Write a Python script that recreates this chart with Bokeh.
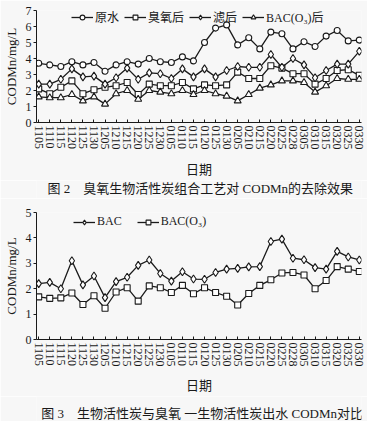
from bokeh.plotting import figure
from bokeh.models import Range1d, FixedTicker, Legend, LegendItem, ColumnDataSource
from bokeh.core.properties import value
from bokeh.layouts import column
from bokeh.embed import file_html
from bokeh.resources import INLINE

# ---------------- data ----------------
dates = ["1105", "1110", "1115", "1120", "1125", "1130", "1205", "1210", "1215", "1220",
         "1225", "1230", "0105", "0110", "0115", "0120", "0125", "0130", "0205", "0210",
         "0215", "0220", "0225", "0228", "0305", "0310", "0315", "0320", "0325", "0330"]

# Fig 2: COD_Mn of each process stage
raw_water = [3.7, 3.6, 3.5, 3.8, 3.6, 3.75, 3.2, 3.6, 3.8, 3.65, 4.0, 3.8, 3.75, 4.1, 3.85,
             5.0, 5.9, 6.1, 4.85, 5.3, 4.6, 5.65, 5.55, 4.6, 5.05, 4.75, 5.4, 5.75, 5.1, 5.15]
after_filter = [2.4, 2.4, 2.7, 3.35, 2.85, 2.9, 2.4, 2.8, 3.4, 2.7, 3.1, 3.05, 2.75, 3.35, 2.85,
                3.35, 2.85, 3.25, 3.5, 3.45, 3.45, 4.25, 3.45, 4.0, 3.6, 2.8, 3.25, 3.65, 3.65, 4.45]
after_ozone = [2.1, 1.8, 2.2, 2.6, 1.8, 2.05, 2.2, 2.3, 2.5, 1.75, 2.4, 2.3, 2.3, 2.5, 2.1,
               2.35, 2.3, 2.35, 3.15, 2.75, 2.75, 3.55, 3.4, 3.05, 3.05, 2.4, 2.75, 3.25, 3.3, 2.95]
after_bac_o3 = [1.6, 1.55, 1.55, 1.75, 1.35, 1.6, 1.15, 1.8, 2.0, 1.45, 2.0, 1.9, 1.8, 2.0, 1.75,
                2.0, 1.8, 1.65, 1.35, 1.75, 2.15, 2.35, 2.6, 2.6, 2.5, 1.9, 2.3, 2.75, 2.7, 2.7]

# Fig 3: BAC vs BAC(O3)
bac = [2.2, 2.25, 2.0, 3.1, 2.15, 2.5, 1.65, 2.28, 2.45, 2.92, 3.13, 2.6, 2.3, 2.67, 2.38,
       2.37, 2.64, 2.77, 2.8, 2.86, 2.87, 3.86, 3.95, 3.2, 3.14, 2.83, 2.77, 3.47, 3.25, 3.13]
bac_o3 = [1.68, 1.62, 1.64, 1.83, 1.38, 1.72, 1.23, 1.87, 2.04, 1.51, 2.11, 2.04, 1.85, 2.13, 1.8,
          2.04, 1.85, 1.7, 1.36, 1.81, 2.13, 2.35, 2.62, 2.64, 2.54, 2.0, 2.32, 2.87, 2.77, 2.68]

y_ticks_1 = [0, 1, 2, 3, 4, 5, 6, 7]
y_ticks_2 = [0, 1, 2, 3, 4, 5]

caption_1 = "图 2　臭氧生物活性炭组合工艺对 CODMn的去除效果"
caption_2 = "图 3　生物活性炭与臭氧 一生物活性炭出水 CODMn对比"
y_label = "CODMn/mg/L"
x_label = "日期"

# ---------------- style ----------------
BG = "#f7f7f7"
INK = "#1a1a1a"
SERIF = "Liberation Serif, Noto Sans CJK SC"
CJK = "Noto Sans CJK SC"
W = 367
xs = list(range(len(dates)))


def base_fig(height, top, bottom, ymax, yticks, xlabel_standoff):
    p = figure(width=W, height=height, output_backend="svg", toolbar_location=None,
               x_range=Range1d(-0.2, len(dates) - 0.8), y_range=Range1d(0, ymax),
               min_border_left=35, min_border_right=6,
               min_border_top=top, min_border_bottom=bottom,
               background_fill_color=BG, border_fill_color=BG, outline_line_color=None)
    p.grid.visible = False
    xa = p.xaxis[0]
    xa.ticker = FixedTicker(ticks=xs)
    xa.major_label_overrides = {i: d for i, d in enumerate(dates)}
    xa.major_label_orientation = "vertical"
    xa.major_label_text_font = SERIF
    xa.major_label_text_font_size = "12px"
    xa.major_label_text_color = INK
    xa.major_label_standoff = 3
    xa.major_tick_in = 3
    xa.major_tick_out = 0
    xa.minor_tick_line_color = None
    xa.axis_line_color = INK
    xa.major_tick_line_color = INK
    xa.axis_label = x_label
    xa.axis_label_text_font = CJK
    xa.axis_label_text_font_size = "13px"
    xa.axis_label_text_font_style = "normal"
    xa.axis_label_text_color = INK
    xa.axis_label_standoff = xlabel_standoff
    ya = p.yaxis[0]
    ya.ticker = FixedTicker(ticks=yticks)
    ya.major_label_text_font = SERIF
    ya.major_label_text_font_size = "12px"
    ya.major_label_text_color = INK
    ya.major_label_standoff = 2
    ya.major_tick_in = 0
    ya.major_tick_out = 3
    ya.minor_tick_line_color = None
    ya.axis_line_color = INK
    ya.major_tick_line_color = INK
    ya.axis_label = y_label
    ya.axis_label_text_font = SERIF
    ya.axis_label_text_font_size = "13px"
    ya.axis_label_text_font_style = "normal"
    ya.axis_label_text_color = INK
    ya.axis_label_standoff = 4
    return p


def series(p, values, marker, size):
    src = ColumnDataSource(dict(x=xs, y=values))
    l = p.line("x", "y", source=src, line_color=INK, line_width=1.3)
    s = p.scatter("x", "y", source=src, marker=marker, size=size, fill_color="white",
                  line_color=INK, line_width=1.1)
    return [l, s]


def add_legend(p, items, loc, spacing):
    lg = Legend(items=[LegendItem(label=t, renderers=r) for t, r in items],
                location=loc, orientation="horizontal", spacing=spacing,
                padding=0, margin=0, glyph_width=22, glyph_height=12, label_height=12,
                label_standoff=2, label_text_font=SERIF, label_text_font_size="12px",
                label_text_color=INK, background_fill_alpha=0, border_line_color=None)
    p.add_layout(lg)


def caption_fig(text, height, cx, cy):
    c = figure(width=W, height=height, output_backend="svg", toolbar_location=None,
               x_range=Range1d(0, W), y_range=Range1d(0, height),
               min_border=0, background_fill_color=BG, border_fill_color=BG,
               outline_line_color=None)
    c.axis.visible = False
    c.grid.visible = False
    c.text(x=[cx], y=[cy], text=[text], text_align="center", text_baseline="middle",
           text_font=value(SERIF), text_font_size=value("13px"), text_color=INK)
    return c


# ---------------- figure 2 ----------------
p1 = base_fig(180, 10, 54, 7, y_ticks_1, 6)
r_raw = series(p1, raw_water, "circle", 6)
r_oz = series(p1, after_ozone, "square", 6)
r_fi = series(p1, after_filter, "diamond", 8)
r_bo = series(p1, after_bac_o3, "triangle", 7)
add_legend(p1, [("原水", r_raw), ("臭氧后", r_oz), ("滤后", r_fi), ("BAC(O₃)后", r_bo)],
           (35, 96), 5)
cap1 = caption_fig(caption_1, 18, 185, 10)

# ---------------- figure 3 ----------------
p2 = base_fig(198, 14, 54, 5, y_ticks_2, 5)
r_bac = series(p2, bac, "diamond", 8)
r_bac_o3 = series(p2, bac_o3, "square", 6)
add_legend(p2, [("BAC", r_bac), ("BAC(O₃)", r_bac_o3)], (37, 110), 15)
cap2 = caption_fig(caption_2, 25, 187, 8)

layout = column(p1, cap1, p2, cap2, spacing=0)
open("out.html", "w").write(file_html(layout, INLINE))
